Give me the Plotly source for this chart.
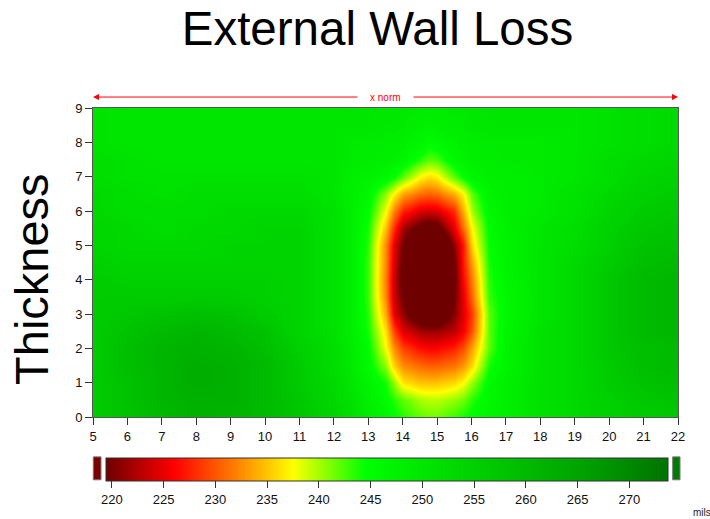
import plotly.graph_objects as go

# ---- data ----
x_norm = [5, 6, 7, 8, 9, 10, 11, 12,
          12.5, 13, 13.5, 13.75, 14, 14.5, 14.75, 15, 15.5, 15.75, 16, 16.5, 17,
          18, 19, 20, 21, 22]
thickness = [0, 0.5, 1, 1.5, 2, 2.5, 3, 3.5, 4, 4.5, 5, 5.5, 6, 6.5, 7, 7.5, 8, 8.5, 9]

# wall values (mils), one row per thickness value
left_part = [
    [256, 258, 260, 262, 261, 260, 257, 254],
    [256, 258, 261, 262, 262, 260, 257, 253],
    [256, 258, 261, 263, 262, 260, 256, 253],
    [256, 259, 261, 263, 262, 260, 256, 252],
    [256, 259, 261, 262, 261, 259, 255, 252],
    [256, 258, 260, 261, 260, 258, 254, 251],
    [256, 257, 258, 259, 258, 256, 254, 251],
    [256, 256, 256, 256, 256, 255, 254, 251],
    [256, 255, 255, 255, 255, 255, 254, 251],
    [255, 254, 254, 254, 254, 254, 254, 251],
    [254, 253, 253, 253, 254, 254, 254, 251],
    [254, 253, 252, 253, 253, 254, 254, 251],
    [253, 252, 252, 252, 253, 253, 253, 251],
    [253, 252, 251, 252, 252, 252, 252, 250],
    [252, 251, 251, 251, 251, 251, 251, 250],
    [252, 251, 250, 250, 250, 250, 250, 250],
    [251, 250, 250, 250, 250, 250, 250, 250],
    [251, 250, 250, 250, 250, 250, 250, 250],
    [251, 250, 250, 250, 250, 250, 250, 250],
]
spot_part = [
    [252, 249, 246.5, 245, 243.5, 242, 241.5, 241.5, 243, 244, 245, 247, 248],
    [251, 248, 245, 243.5, 242, 240, 239.5, 239.5, 240.5, 241.5, 243.5, 246, 248],
    [250, 247, 244, 240.5, 236.5, 235, 235, 235, 236, 237.5, 240.5, 245.5, 248],
    [249, 245.5, 240.5, 235.5, 232.5, 231, 230.5, 230.5, 231.5, 233, 236, 244, 247],
    [249, 245, 237.5, 232.5, 229, 226.5, 226, 226, 227.5, 229.5, 233.5, 242, 247],
    [248, 244, 236, 229, 224.5, 222, 221.5, 221.5, 223, 225.5, 230, 242, 246.5],
    [248, 243.5, 233.5, 225, 221, 215.5, 214, 214.5, 220.5, 224.5, 229, 242, 246],
    [248, 243, 232, 223.5, 219.4, 209, 207, 208, 219.4, 225, 231, 243, 246],
    [248, 243, 231.5, 223.5, 218, 206, 204, 205, 218.5, 226, 232, 243.5, 246.5],
    [248, 243, 232, 224, 218.5, 207, 205, 206, 219, 227, 233.5, 244, 247],
    [248, 243.5, 232, 225, 219.4, 211, 209, 210, 221, 227, 236, 244.5, 247],
    [248, 244, 234.5, 228, 222, 218, 216.5, 217.5, 225, 231, 237.5, 245, 247.5],
    [248, 245, 237.5, 232, 227.5, 224.5, 224, 224.5, 228, 234, 240, 246, 248],
    [248, 246, 240.5, 237, 233.5, 231, 230.5, 231, 234, 237, 242, 247, 248],
    [248, 247.5, 246, 244.5, 242, 237.3, 236, 237, 242, 244.5, 246.5, 248, 248],
    [249, 248.5, 248, 247.5, 246.5, 243.5, 242, 242.5, 246, 247, 248, 248.5, 249],
    [249, 249, 248.5, 248.5, 248, 246.5, 245.5, 246, 247.5, 248, 248.5, 249, 249],
    [250, 250, 249.5, 249.5, 249, 248, 247.5, 248, 248.5, 249, 249.5, 250, 250],
    [250, 250, 250, 250, 249.5, 249, 249, 249, 249.5, 249.5, 250, 250, 250],
]
right_part = [
    [251, 253, 255, 256, 257],
    [251, 253, 255, 257, 258],
    [251, 253, 256, 258, 259],
    [251, 253, 256, 259, 260],
    [251, 253, 257, 259, 260],
    [251, 253, 257, 260, 261],
    [250, 253, 257, 260, 261],
    [250, 253, 257, 260, 261],
    [250, 253, 257, 260, 261],
    [250, 253, 256, 259, 260],
    [250, 252, 255, 258, 259],
    [250, 252, 255, 257, 258],
    [249, 251, 254, 256, 257],
    [249, 251, 253, 255, 256],
    [249, 250, 252, 254, 255],
    [249, 250, 252, 253, 254],
    [249, 250, 251, 252, 253],
    [250, 250, 251, 252, 253],
    [250, 250, 251, 252, 253],
]
wall = [l + s + r for l, s, r in zip(left_part, spot_part, right_part)]

x_ticks = list(range(5, 23))
y_ticks = list(range(0, 10))
cbar_ticks = [220, 225, 230, 235, 240, 245, 250, 255, 260, 265, 270]
z_min, z_max = 219.4, 273.7

# ---- style ----
W, H = 710, 519
ML, MR, MT, MB = 93, 32, 108, 101
PW, PH = W - ML - MR, H - MT - MB


def px_x(p):
    return (p - ML) / PW


def px_y(p):
    return (H - MB - p) / PH


def cs(v):
    return (v - z_min) / (z_max - z_min)


colorscale = [
    [0.0, "#6e0000"],
    [cs(226), "#ff0000"],
    [cs(232.5), "#ff8c00"],
    [cs(237.5), "#ffff00"],
    [cs(244.5), "#00ff00"],
    [cs(255), "#00d000"],
    [cs(265), "#00a400"],
    [1.0, "#007400"],
]

FONT = "Liberation Sans, Arial, sans-serif"
TICKFONT = dict(family=FONT, size=13, color="#111111")

fig = go.Figure(
    go.Heatmap(
        x=x_norm,
        y=thickness,
        z=wall,
        zmin=z_min,
        zmax=z_max,
        zsmooth="best",
        colorscale=colorscale,
        colorbar=dict(
            orientation="h",
            lenmode="pixels",
            len=562,
            thickness=23,
            x=px_x((105.7 + 667.7) / 2),
            xanchor="center",
            y=px_y(458),
            yanchor="top",
            xpad=0,
            ypad=0,
            outlinewidth=1,
            outlinecolor="#333333",
            ticks="outside",
            ticklen=7,
            tickcolor="#333333",
            tickvals=cbar_ticks,
            tickfont=TICKFONT,
        ),
    )
)

axis_style = dict(
    ticks="outside",
    ticklen=7,
    tickcolor="#333333",
    showline=True,
    linecolor="#555555",
    linewidth=1,
    mirror=True,
    showgrid=False,
    zeroline=False,
    tickfont=TICKFONT,
)

fig.update_layout(
    width=W,
    height=H,
    autosize=False,
    margin=dict(l=ML, r=MR, t=MT, b=MB),
    paper_bgcolor="white",
    plot_bgcolor="white",
    font=dict(family=FONT, color="#222222"),
    title=dict(
        text="External Wall Loss",
        x=377.5 / W,
        xanchor="center",
        y=1 - 28 / H,
        yanchor="middle",
        font=dict(family=FONT, size=47.5, color="black"),
    ),
    xaxis=dict(range=[5, 22], tickvals=x_ticks, **axis_style),
    yaxis=dict(range=[0, 9], tickvals=y_ticks, **axis_style),
)

# "x norm" double arrow above the plot
arrow_py = px_y(97)
fig.add_annotation(x=0, y=arrow_py, xref="paper", yref="paper",
                   ax=359 - ML, ay=0, axref="pixel", ayref="pixel",
                   text="", showarrow=True, arrowhead=2, arrowsize=1.2,
                   arrowwidth=1, arrowcolor="red")
fig.add_annotation(x=1, y=arrow_py, xref="paper", yref="paper",
                   ax=412 - (W - MR), ay=0, axref="pixel", ayref="pixel",
                   text="", showarrow=True, arrowhead=2, arrowsize=1.2,
                   arrowwidth=1, arrowcolor="red")
fig.add_annotation(x=px_x(385.5), y=arrow_py, xref="paper", yref="paper",
                   text="x norm", showarrow=False, xanchor="center", yanchor="middle",
                   font=dict(family=FONT, size=10, color="red"))

fig.add_annotation(x=px_x(31.5), y=px_y(280), xref="paper", yref="paper",
                   text="Thickness", textangle=-90, showarrow=False,
                   xanchor="center", yanchor="middle",
                   font=dict(family=FONT, size=47, color="black"))

fig.add_annotation(x=px_x(691), y=px_y(514), xref="paper", yref="paper",
                   text="mils", showarrow=False, xanchor="left", yanchor="middle",
                   font=dict(family=FONT, size=10, color="#222222"))

# under/over-range boxes beside the colour bar
fig.add_shape(type="rect", xref="paper", yref="paper",
              x0=px_x(93.3), x1=px_x(101), y0=px_y(481), y1=px_y(458),
              fillcolor="#7a0000", line=dict(color="#777777", width=1))
fig.add_shape(type="rect", xref="paper", yref="paper",
              x0=px_x(672.7), x1=px_x(680), y0=px_y(481), y1=px_y(458),
              fillcolor="#007a00", line=dict(color="#777777", width=1))

fig.write_html("out.html", config={"displayModeBar": False},
               post_script="document.body.style.margin='0px';")
